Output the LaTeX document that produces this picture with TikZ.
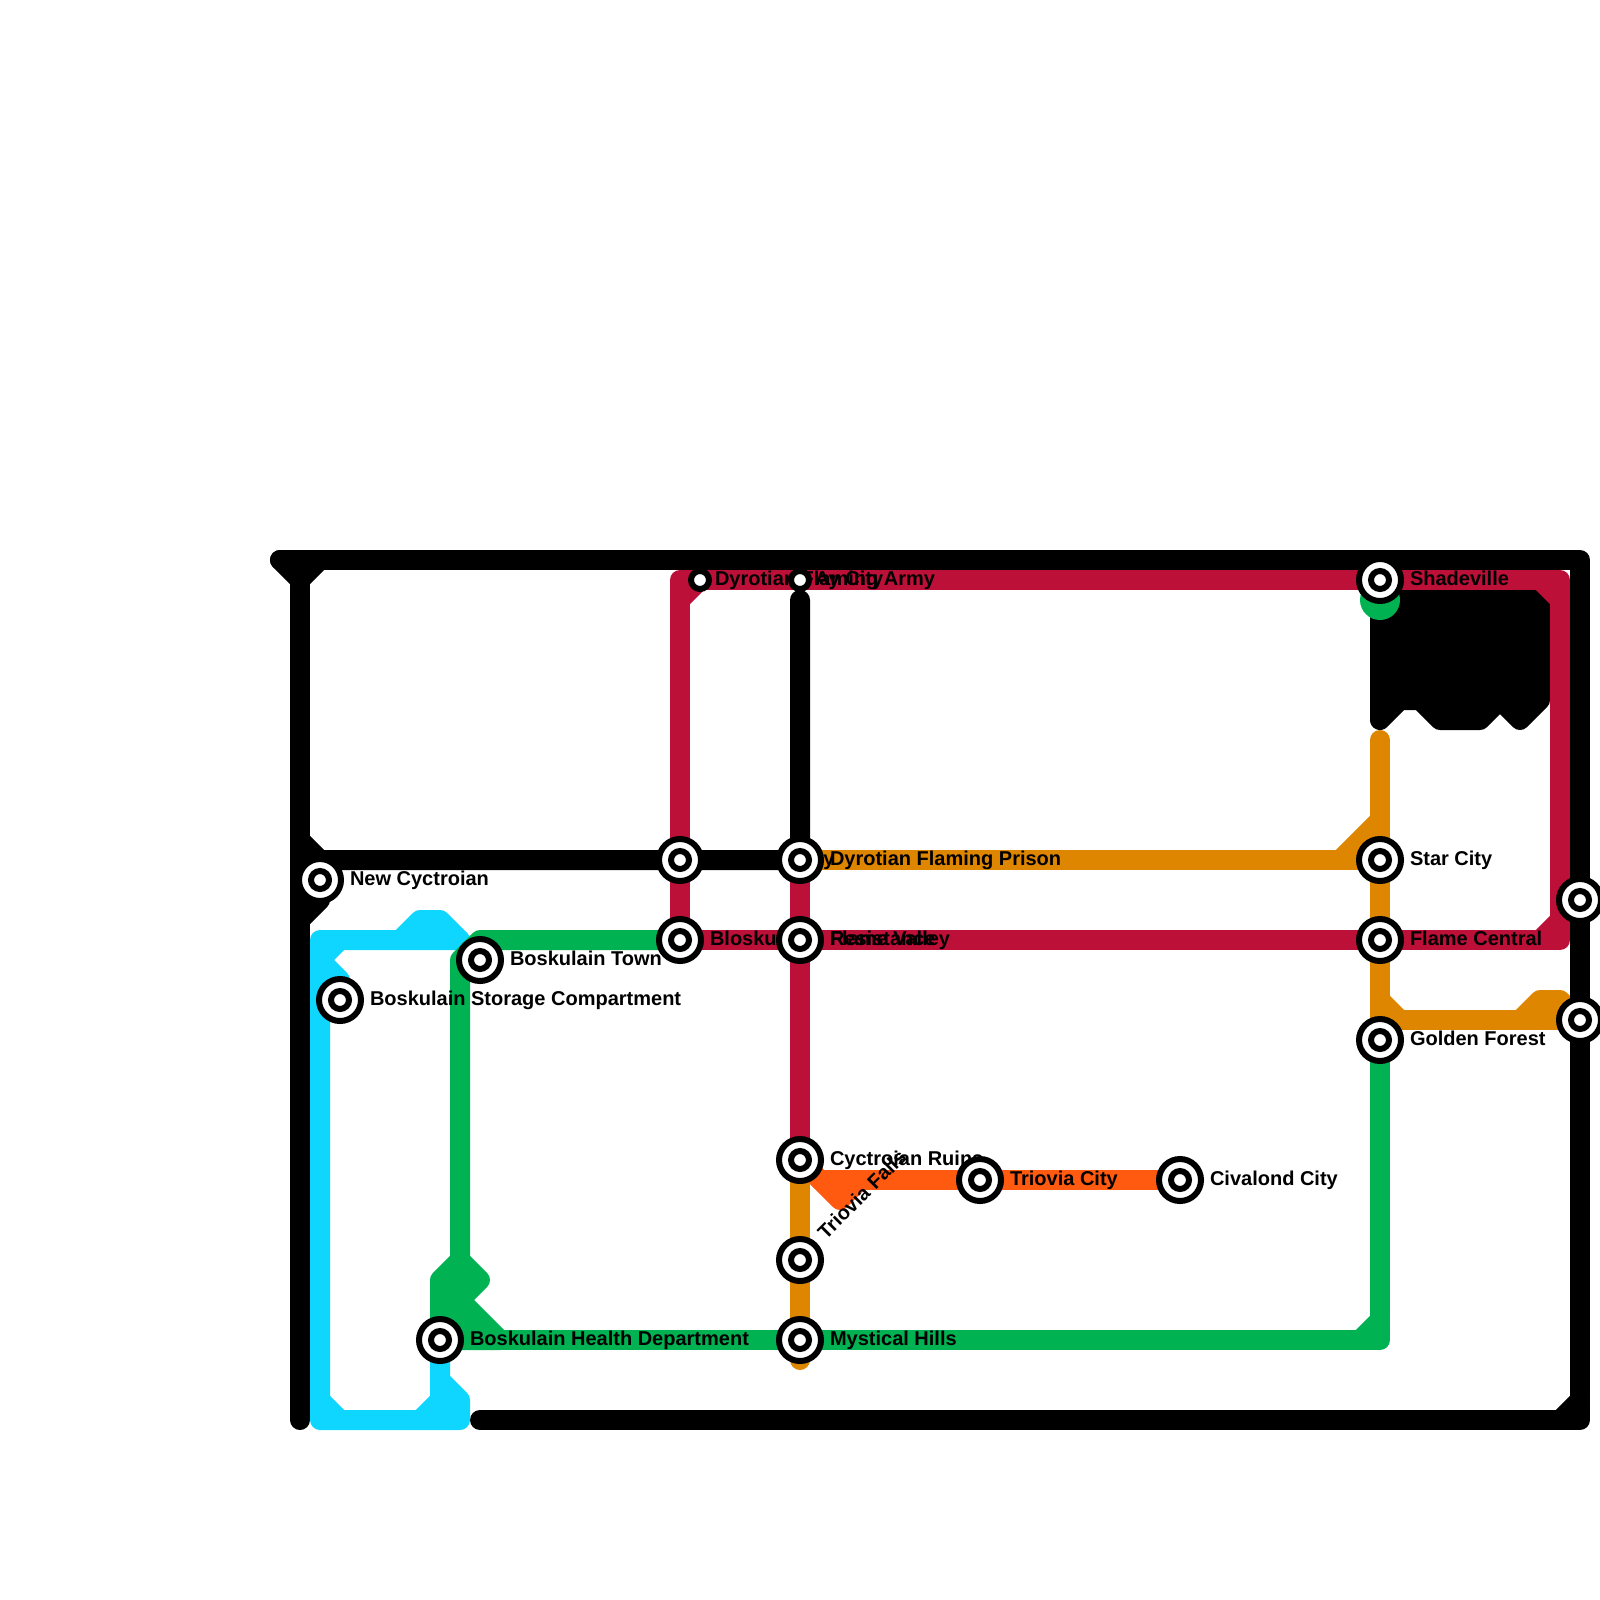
\documentclass[tikz,border=0pt]{standalone}
\usepackage{fontspec}
\setmainfont{Liberation Sans}
\pgfdeclarelayer{lines}
\pgfdeclarelayer{labels}
\pgfsetlayers{lines,labels,main}
\definecolor{cred}{HTML}{BD1038}
\definecolor{corange}{HTML}{DF8600}
\definecolor{cgreen}{HTML}{00B251}
\definecolor{ccyan}{HTML}{0FD6FF}
\definecolor{cflame}{HTML}{FF5A10}
\tikzset{
  x=0.5pt,y=-0.5pt,
  rail/.style={line width=10pt,line cap=round,line join=round},
  stn/.style={circle,draw=black,fill=white,line width=3pt,minimum size=21pt,inner sep=0pt,
    path picture={\draw[black,line width=3pt] (path picture bounding box.center) circle (4.5pt);}},
  smallstn/.style={circle,draw=black,fill=white,line width=3pt,minimum size=9pt,inner sep=0pt},
  lbl/.style={anchor=base west,inner sep=0pt,outer sep=0pt,text=black,font=\fontsize{10}{12}\selectfont\bfseries},
}
\begin{document}
\begin{tikzpicture}
\useasboundingbox (0,0) rectangle (1600,1600);
% grid points where lines bend
\foreach \x/\y in {280/560,300/560,320/560,300/580,1580/560,1580/1420,480/1420,300/1420,300/840,320/860,320/900,300/920,800/600,1560/1420,1580/1400,
  1380/600,1540/600,1540/700,1520/720,1500/700,1480/720,1440/720,1420/700,1400/700,1380/720,
  680/580,680/600,1560/580,1560/600,1540/580,1560/940,1540/940,1560/920,
  1380/740,1340/860,1380/820,1380/1000,1400/1020,1380/1020,1520/1020,1540/1000,1560/1000,800/1360,
  480/940,460/960,460/1260,480/1280,460/1300,500/1340,440/1280,1380/1340,1360/1340,1380/1320,
  340/940,320/960,340/980,320/940,320/1420,460/940,460/1420,460/1400,440/1380,440/1400,440/1420,420/1420,320/1400,340/1420,400/940,420/920,440/920,
  840/1200,860/1180,820/1180}
  \coordinate (p\x-\y) at (\x,\y);
% stations
\node[stn] (sh) at (1380,580) {};
\node[stn] (st) at (1380,860) {};
\node[stn] (fc) at (1380,940) {};
\node[stn] (gf) at (1380,1040) {};
\node[stn] (nc) at (320,880) {};
\node[stn] (bs) at (340,1000) {};
\node[stn] (bt) at (480,960) {};
\node[stn] (bc) at (680,940) {};
\node[stn] (dc) at (680,860) {};
\node[stn] (dp) at (800,860) {};
\node[stn] (ra) at (800,940) {};
\node[smallstn] (da) at (700,580) {};
\node[smallstn] (ay) at (800,580) {};
\node[stn] (cr) at (800,1160) {};
\node[stn] (tc) at (980,1180) {};
\node[stn] (ci) at (1180,1180) {};
\node[stn] (tf) at (800,1260) {};
\node[stn] (mh) at (800,1340) {};
\node[stn] (bh) at (440,1340) {};
\node[stn] (ea) at (1580,900) {};
\node[stn] (eb) at (1580,1020) {};
% labels
\begin{pgfonlayer}{labels}
\node[lbl] (lsh) at (1410,585) {Shadeville};
\node[lbl] (lst) at (1410,865) {Star City};
\node[lbl] (lfc) at (1410,945) {Flame Central};
\node[lbl] (lgf) at (1410,1045) {Golden Forest};
\node[lbl] (lnc) at (350,885) {New Cyctroian};
\node[lbl] (lbs) at (370,1005) {Boskulain Storage Compartment};
\node[lbl] (lbt) at (510,965) {Boskulain Town};
\node[lbl] (lbc) at (710,945) {Bloskulain};
\node[lbl] (ldc) at (710,865) {Dyrotian City};
\node[lbl] (ldp) at (830,865) {Dyrotian Flaming Prison};
\node[lbl] (lra) at (830,945) {Flame Valley};
\node[lbl] (lrb) at (830,945) {Resistance};
\node[lbl] (lda) at (715,585) {Dyrotian Flaming Army};
\node[lbl] (lay) at (815,585) {Ay City};
\node[lbl] (lcr) at (830,1165) {Cyctroian Ruins};
\node[lbl] (ltc) at (1010,1185) {Triovia City};
\node[lbl] (lci) at (1210,1185) {Civalond City};
\node[lbl,rotate=45] (ltf) at (826,1240) {Triovia Falls};
\node[lbl] (lmh) at (830,1345) {Mystical Hills};
\node[lbl] (lbh) at (470,1345) {Boskulain Health Department};
\end{pgfonlayer}
% lines
\begin{pgfonlayer}{lines}
% flame line
\begin{scope}[rail,draw=cflame]
\draw (cr.center) -- (p840-1200) -- (p860-1180);
\draw (p820-1180) -- (tc.center) -- (ci.center);
\end{scope}
% orange line
\begin{scope}[rail,draw=corange]
\draw (p1380-740) -- (st.center) -- (fc.center) -- (gf.center);
\draw (dp.center) -- (p1340-860) -- (st.center);
\draw (p1340-860) -- (p1380-820);
\draw (p1380-1000) -- (p1400-1020);
\draw (p1380-1020) -- (eb.center);
\draw (p1520-1020) -- (p1540-1000) -- (p1560-1000) -- (eb.center);
\draw (cr.center) -- (tf.center) -- (mh.center) -- (p800-1360);
\end{scope}
% black line
\begin{scope}[rail,draw=black]
\draw (p280-560) -- (p1580-560) -- (ea.center) -- (eb.center) -- (p1580-1420) -- (p480-1420);
\draw (p280-560) -- (p300-580) -- (p320-560);
\draw (p300-560) -- (p300-1420);
\draw (p300-840) -- (p320-860) -- (dc.center) -- (dp.center) -- (p800-600);
\draw (p320-860) -- (nc.center) -- (p320-900) -- (p300-920);
\draw (p1560-1420) -- (p1580-1400);
\filldraw[fill=black] (p1380-600) -- (p1540-600) -- (p1540-700) -- (p1520-720) -- (p1500-700) -- (p1480-720) -- (p1440-720) -- (p1420-700) -- (p1400-700) -- (p1380-720) -- cycle;
\end{scope}
% red line
\begin{scope}[rail,draw=cred]
\draw (p680-580) -- (da.center) -- (ay.center) -- (sh.center) -- (p1560-580) -- (p1560-940) -- (fc.center) -- (ra.center) -- (bc.center) -- (dc.center) -- cycle;
\draw (p680-600) -- (da.center);
\draw (p1540-580) -- (p1560-600);
\draw (p1540-940) -- (p1560-920);
\draw (dp.center) -- (ra.center) -- (cr.center);
\end{scope}
% cyan line
\begin{scope}[rail,draw=ccyan]
\draw (p460-940) -- (p320-940) -- (p320-1420) -- (p460-1420) -- (p460-1400) -- (p440-1380) -- (bh.center);
\draw (p440-1380) -- (p440-1420);
\draw (p440-1400) -- (p420-1420);
\draw (p320-1400) -- (p340-1420);
\draw (p400-940) -- (p420-920) -- (p440-920) -- (p460-940);
\draw (p340-940) -- (p320-960) -- (p340-980) -- (bs.center);
\end{scope}
% green line
\begin{scope}[rail,draw=cgreen]
\draw (bc.center) -- (p480-940) -- (p460-960) -- (p460-1260);
\filldraw[fill=cgreen] (p460-1260) -- (p480-1280) -- (p460-1300) -- (p500-1340) -- (bh.center) -- (p440-1280) -- cycle;
\draw (bh.center) -- (mh.center) -- (p1380-1340) -- (gf.center);
\draw (p1360-1340) -- (p1380-1320);
\fill[cgreen] (p1380-600) circle (10pt);
\end{scope}
\end{pgfonlayer}
\end{tikzpicture}
\end{document}
